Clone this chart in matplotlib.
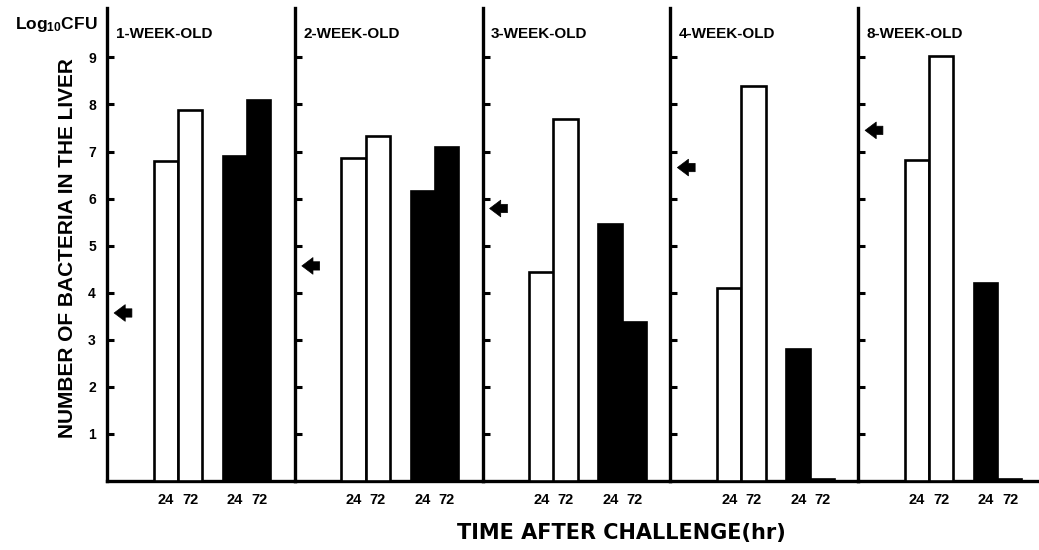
import matplotlib
matplotlib.use("Agg")
import matplotlib.pyplot as plt

plt.rcParams['font.family'] = ['Liberation Sans', 'DejaVu Sans']
plt.rcParams['font.weight'] = 'bold'
plt.rcParams['mathtext.default'] = 'regular'

# ---- data ----
ages = ['1-WEEK-OLD', '2-WEEK-OLD', '3-WEEK-OLD', '4-WEEK-OLD', '8-WEEK-OLD']
hours = ['24', '72']
open_24 = [6.79, 6.87, 4.45, 4.10, 6.83]
open_72 = [7.89, 7.34, 7.70, 8.40, 9.04]
filled_24 = [6.91, 6.17, 5.47, 2.81, 4.21]
filled_72 = [8.09, 7.09, 3.38, 0.05, 0.05]
inoculum = [3.57, 4.57, 5.79, 6.66, 7.45]
yticks = [1, 2, 3, 4, 5, 6, 7, 8, 9]

W, H = 1039, 550
fig = plt.figure(figsize=(W / 100, H / 100), dpi=100)

left_px = 107
panel_px = 187.75
bottom_px = 481
top_px = 8
units = 7.8
bw = 1.02
open_pos = [2.45, 3.45]
filled_pos = [5.32, 6.32]

for k, age in enumerate(ages):
    x0 = (left_px + k * panel_px) / W
    ax = fig.add_axes([x0, (H - bottom_px) / H, panel_px / W, (bottom_px - top_px) / H])
    ax.set_xlim(0, units)
    ax.set_ylim(0, 10.05)
    for s in ['top', 'right']:
        ax.spines[s].set_visible(False)
    ax.spines['left'].set_linewidth(2.4)
    ax.spines['bottom'].set_linewidth(2.4)
    ax.patch.set_alpha(0)

    ax.bar(open_pos, [open_24[k], open_72[k]], width=bw, color='white',
           edgecolor='black', linewidth=1.9, zorder=3)
    ax.bar(filled_pos, [filled_24[k], filled_72[k]], width=bw, color='black',
           edgecolor='black', linewidth=1.2, zorder=3)

    ax.set_yticks(yticks)
    ax.tick_params(axis='y', direction='in', length=5, width=2.2, pad=8,
                   labelsize=10, labelleft=(k == 0))
    for lab in ax.get_yticklabels():
        lab.set_fontweight('bold')
    ax.set_xticks(open_pos + filled_pos)
    ax.set_xticklabels(hours + hours, fontsize=10.5, fontweight='bold')
    ax.tick_params(axis='x', length=0, pad=9)

    ax.text(0.36, 9.5, age, fontsize=11, fontweight='bold', ha='left', va='center')

    ax.annotate('', xy=(0.18, inoculum[k]), xytext=(1.15, inoculum[k]),
                arrowprops=dict(arrowstyle='simple,head_length=0.8,head_width=1.2,tail_width=0.6',
                                color='black', lw=0.5), zorder=4)

fig.text(15 / W, 1 - 29 / H, r'Log$_{10}$CFU', fontsize=12.5, fontweight='bold',
         ha='left', va='baseline')
fig.text(68 / W, 1 - 248 / H, 'NUMBER OF BACTERIA IN THE LIVER', rotation=90,
         fontsize=15, fontweight='bold', ha='center', va='center')
fig.text(621 / W, 1 - 533 / H, 'TIME AFTER CHALLENGE(hr)', fontsize=15,
         fontweight='bold', ha='center', va='center', family=['DejaVu Sans'])

fig.savefig('out.png', dpi=100)
